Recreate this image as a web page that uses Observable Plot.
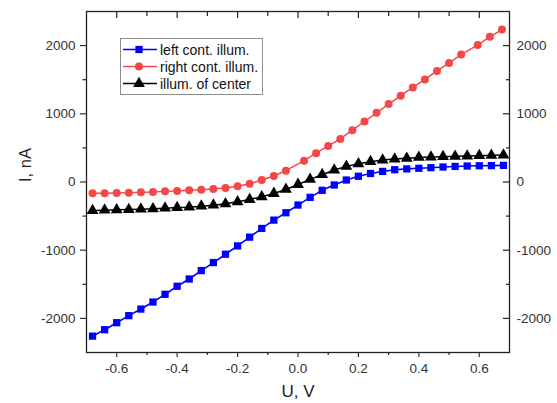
<!DOCTYPE html>
<html><head><meta charset="utf-8">
<script src="https://cdn.jsdelivr.net/npm/d3@7"></script>
<script src="https://cdn.jsdelivr.net/npm/@observablehq/plot@0.6"></script>
<style>
body{margin:0;background:#fff;font-family:"Liberation Sans",Arial,sans-serif;}
#wrap{position:relative;width:557px;height:403px;}
#legend{position:absolute;left:120px;top:38px;width:141px;height:55px;border:1px solid #8c8c8c;background:#fff;}
.row{position:absolute;left:1px;height:17px;display:flex;align-items:center;}
.row span{font-size:14px;color:#111;margin-left:2px;white-space:nowrap;}
</style></head><body><div id="wrap"></div>
<script>
// ---- data ----
const seriesNames = ["left cont. illum.", "right cont. illum.", "illum. of center"];
const seriesColors = ["#0000ff", "#f44848", "#000000"];
const seriesSymbols = ["square", "circle", "triangle"];

const uGrid = [-0.68,-0.64,-0.60,-0.56,-0.52,-0.48,-0.44,-0.40,-0.36,-0.32,-0.28,-0.24,-0.20,-0.16,-0.12,-0.08,-0.04,0.00,0.04,0.08,0.12,0.16,0.20,0.24,0.28,0.32,0.36,0.40,0.44,0.48,0.52,0.56,0.60,0.64,0.68];
const leftI = [-2260,-2166,-2063,-1960,-1863,-1760,-1647,-1529,-1422,-1299,-1181,-1059,-937,-809,-681,-559,-451,-338,-225,-122,-44,29,84,125,155,180,192,201,210,220,228,234,238,240,244];
const centerI = [-418,-413,-408,-403,-398,-393,-384,-374,-369,-354,-340,-320,-291,-256,-217,-168,-109,-36,38,107,175,229,268,298,322,337,347,361,366,371,376,381,386,391,396];

const rightU = [-0.68,-0.64,-0.60,-0.56,-0.52,-0.48,-0.44,-0.40,-0.36,-0.32,-0.28,-0.24,-0.20,-0.16,-0.12,-0.08,-0.04,0.02,0.06,0.10,0.14,0.18,0.22,0.26,0.30,0.34,0.38,0.42,0.46,0.50,0.54,0.595,0.635,0.675];
const rightI = [-166,-166,-162,-157,-151,-147,-137,-132,-122,-113,-103,-88,-63,-25,29,88,166,313,422,529,632,760,887,1015,1143,1265,1387,1504,1628,1746,1868,2010,2128,2235];

const xMajorTicks = [-0.6,-0.4,-0.2,0,0.2,0.4,0.6];
const xMinorTicks = [-0.5,-0.3,-0.1,0.1,0.3,0.5];
const yMajorTicks = [-2000,-1000,0,1000,2000];
const yMinorTicks = [-1500,-500,500,1500];

// ---- tables ----
const leftData = uGrid.map((u,i)=>({U:u, I:leftI[i]}));
const centerData = uGrid.map((u,i)=>({U:u, I:centerI[i]}));
const rightData = rightU.map((u,i)=>({U:u, I:rightI[i]}));

const axisColor = "#222";
const labelColor = "#333";
const fs = 13.5;
const fmtX = d => d.toFixed(1);      // plain hyphen minus like the original
const fmtY = d => String(d);
const blank = () => "";
const tw = 1.2;

const chart = Plot.plot({
  width: 557, height: 403,
  marginLeft: 86, marginRight: 48, marginTop: 11, marginBottom: 51,
  style: {fontFamily: '"Liberation Sans", Arial, sans-serif', background: "#fff"},
  x: {domain: [-0.7, 0.7]},
  y: {domain: [-2500, 2500]},
  marks: [
    Plot.line(rightData, {x:"U", y:"I", stroke: seriesColors[1], strokeWidth: 1.5}),
    Plot.line(centerData, {x:"U", y:"I", stroke: seriesColors[2], strokeWidth: 1.5}),
    Plot.line(leftData, {x:"U", y:"I", stroke: seriesColors[0], strokeWidth: 1.6}),
    Plot.dot(rightData, {x:"U", y:"I", symbol: seriesSymbols[1], r: 4, fill: seriesColors[1]}),
    Plot.dot(centerData, {x:"U", y:"I", symbol: seriesSymbols[2], r: 4.4, fill: seriesColors[2]}),
    Plot.dot(leftData, {x:"U", y:"I", symbol: seriesSymbols[0], r: 4.1, fill: seriesColors[0]}),
    Plot.frame({stroke: axisColor, strokeWidth: 1.3}),
    // bottom: outward ticks with labels
    Plot.axisX({anchor:"bottom", ticks: xMajorTicks, tickSize: 5, tickPadding: 6, tickFormat: fmtX, fontSize: fs, color: labelColor, strokeWidth: tw, label: null}),
    Plot.axisX({anchor:"bottom", ticks: xMinorTicks, tickSize: 3, tickFormat: blank, color: axisColor, strokeWidth: tw, label: null}),
    // top: inward ticks
    Plot.axisX({anchor:"top", ticks: xMajorTicks, tickSize: 6, dy: 6, tickFormat: blank, color: axisColor, strokeWidth: tw, label: null}),
    Plot.axisX({anchor:"top", ticks: xMinorTicks, tickSize: 4, dy: 4, tickFormat: blank, color: axisColor, strokeWidth: tw, label: null}),
    // left: outward ticks with labels
    Plot.axisY({anchor:"left", ticks: yMajorTicks, tickSize: 6, tickPadding: 5, tickFormat: fmtY, fontSize: fs, color: labelColor, strokeWidth: tw, label: null}),
    Plot.axisY({anchor:"left", ticks: yMinorTicks, tickSize: 3.5, tickFormat: blank, color: axisColor, strokeWidth: tw, label: null}),
    // right: inward ticks, labels outside
    Plot.axisY({anchor:"right", ticks: yMajorTicks, tickSize: 7, dx: -7, tickFormat: blank, color: axisColor, strokeWidth: tw, label: null}),
    Plot.axisY({anchor:"right", ticks: yMinorTicks, tickSize: 4, dx: -4, tickFormat: blank, color: axisColor, strokeWidth: tw, label: null}),
    Plot.axisY({anchor:"right", ticks: yMajorTicks, tickSize: 0, tickPadding: 7, tickFormat: fmtY, fontSize: fs, color: labelColor, label: null}),
    Plot.text(["U, V"], {frameAnchor:"bottom", dy: 44, fontSize: 17, fill: "#222"}),
    Plot.text(["I, nA"], {frameAnchor:"left", dx: -61, rotate: -90, fontSize: 16.5, fill: "#222"})
  ]
});

const wrap = document.getElementById("wrap");
wrap.appendChild(chart);

// legend overlay
const legend = document.createElement("div");
legend.id = "legend";
const rowTops = [2, 19.2, 36.2];
const legendR = [4.1, 4, 4.4];
const d3Symbols = {square: d3.symbolSquare, circle: d3.symbolCircle, triangle: d3.symbolTriangle};
seriesNames.forEach((name, i) => {
  const row = document.createElement("div");
  row.className = "row";
  row.style.top = rowTops[i] + "px";
  const r = legendR[i];
  const path = d3.symbol(d3Symbols[seriesSymbols[i]], r * r * Math.PI)();
  row.innerHTML = `<svg width="36" height="17"><line x1="1" x2="35" y1="8.5" y2="8.5" stroke="${seriesColors[i]}" stroke-width="1.6"/><path transform="translate(17,8.5)" d="${path}" fill="${seriesColors[i]}"/></svg><span>${name}</span>`;
  legend.appendChild(row);
});
wrap.appendChild(legend);
</script>
</body></html>
